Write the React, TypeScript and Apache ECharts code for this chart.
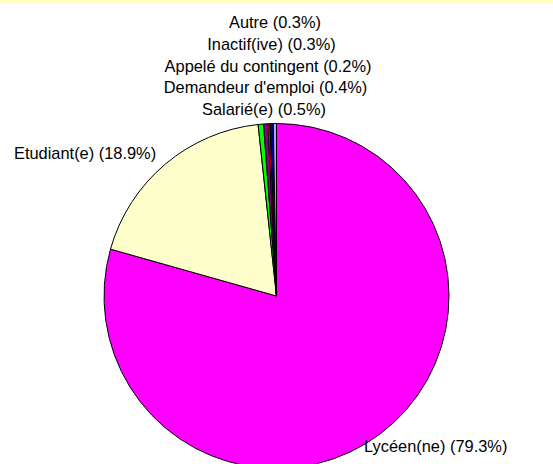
import React, { useEffect, useRef } from "react";
import * as echarts from "echarts";

const categories = [
  "Lycéen(ne)",
  "Etudiant(e)",
  "Salarié(e)",
  "Demandeur d'emploi",
  "Appelé du contingent",
  "Inactif(ive)",
  "Autre",
];
const percents = [79.3, 18.9, 0.5, 0.4, 0.2, 0.3, 0.3];
const sliceColors = ["#FF00FF", "#FFFFCC", "#00FF00", "#800080", "#FF0000", "#000099", "#AAAAFF"];

// label anchor positions (layout only)
const labelPos: { x: number; y: number; align: string }[] = [
  { x: 364, y: 446, align: "left" },
  { x: 14, y: 153, align: "left" },
  { x: 264, y: 108.5, align: "center" },
  { x: 265.5, y: 87, align: "center" },
  { x: 268, y: 65.5, align: "center" },
  { x: 271.5, y: 44, align: "center" },
  { x: 275, y: 22, align: "center" },
];

export default function App() {
  const ref = useRef<HTMLDivElement>(null);
  useEffect(() => {
    document.body.style.margin = "0";
    const chart = echarts.init(ref.current!, null, { renderer: "svg" });
    chart.setOption({
      animation: false,
      backgroundColor: "#FFFFFF",
      graphic: [
        {
          type: "rect",
          shape: { x: 0, y: 0, width: 553, height: 4 },
          style: { fill: "#FFFFC8" },
          silent: true,
        },
      ],
      series: [
        {
          type: "pie",
          center: [276.5, 296],
          radius: 172.5,
          startAngle: 90,
          clockwise: true,
          avoidLabelOverlap: false,
          data: categories.map((name, i) => ({
            name,
            value: percents[i],
            itemStyle: { color: sliceColors[i] },
          })),
          itemStyle: { borderColor: "#000000", borderWidth: 1 },
          label: {
            show: true,
            formatter: (p: any) => `${p.name} (${p.value.toFixed(1)}%)`,
            fontFamily: "Liberation Sans, Arial, sans-serif",
            fontSize: 16.4,
            color: "#000000",
          },
          labelLine: { show: false },
          labelLayout: (params: any) => {
            const pos = labelPos[params.dataIndex];
            return { x: pos.x, y: pos.y, align: pos.align, verticalAlign: "middle" };
          },
          emphasis: { disabled: true },
        },
      ],
    });
    return () => chart.dispose();
  }, []);
  return <div ref={ref} style={{ width: 553, height: 464, position: "absolute", left: 0, top: 0 }} />;
}
